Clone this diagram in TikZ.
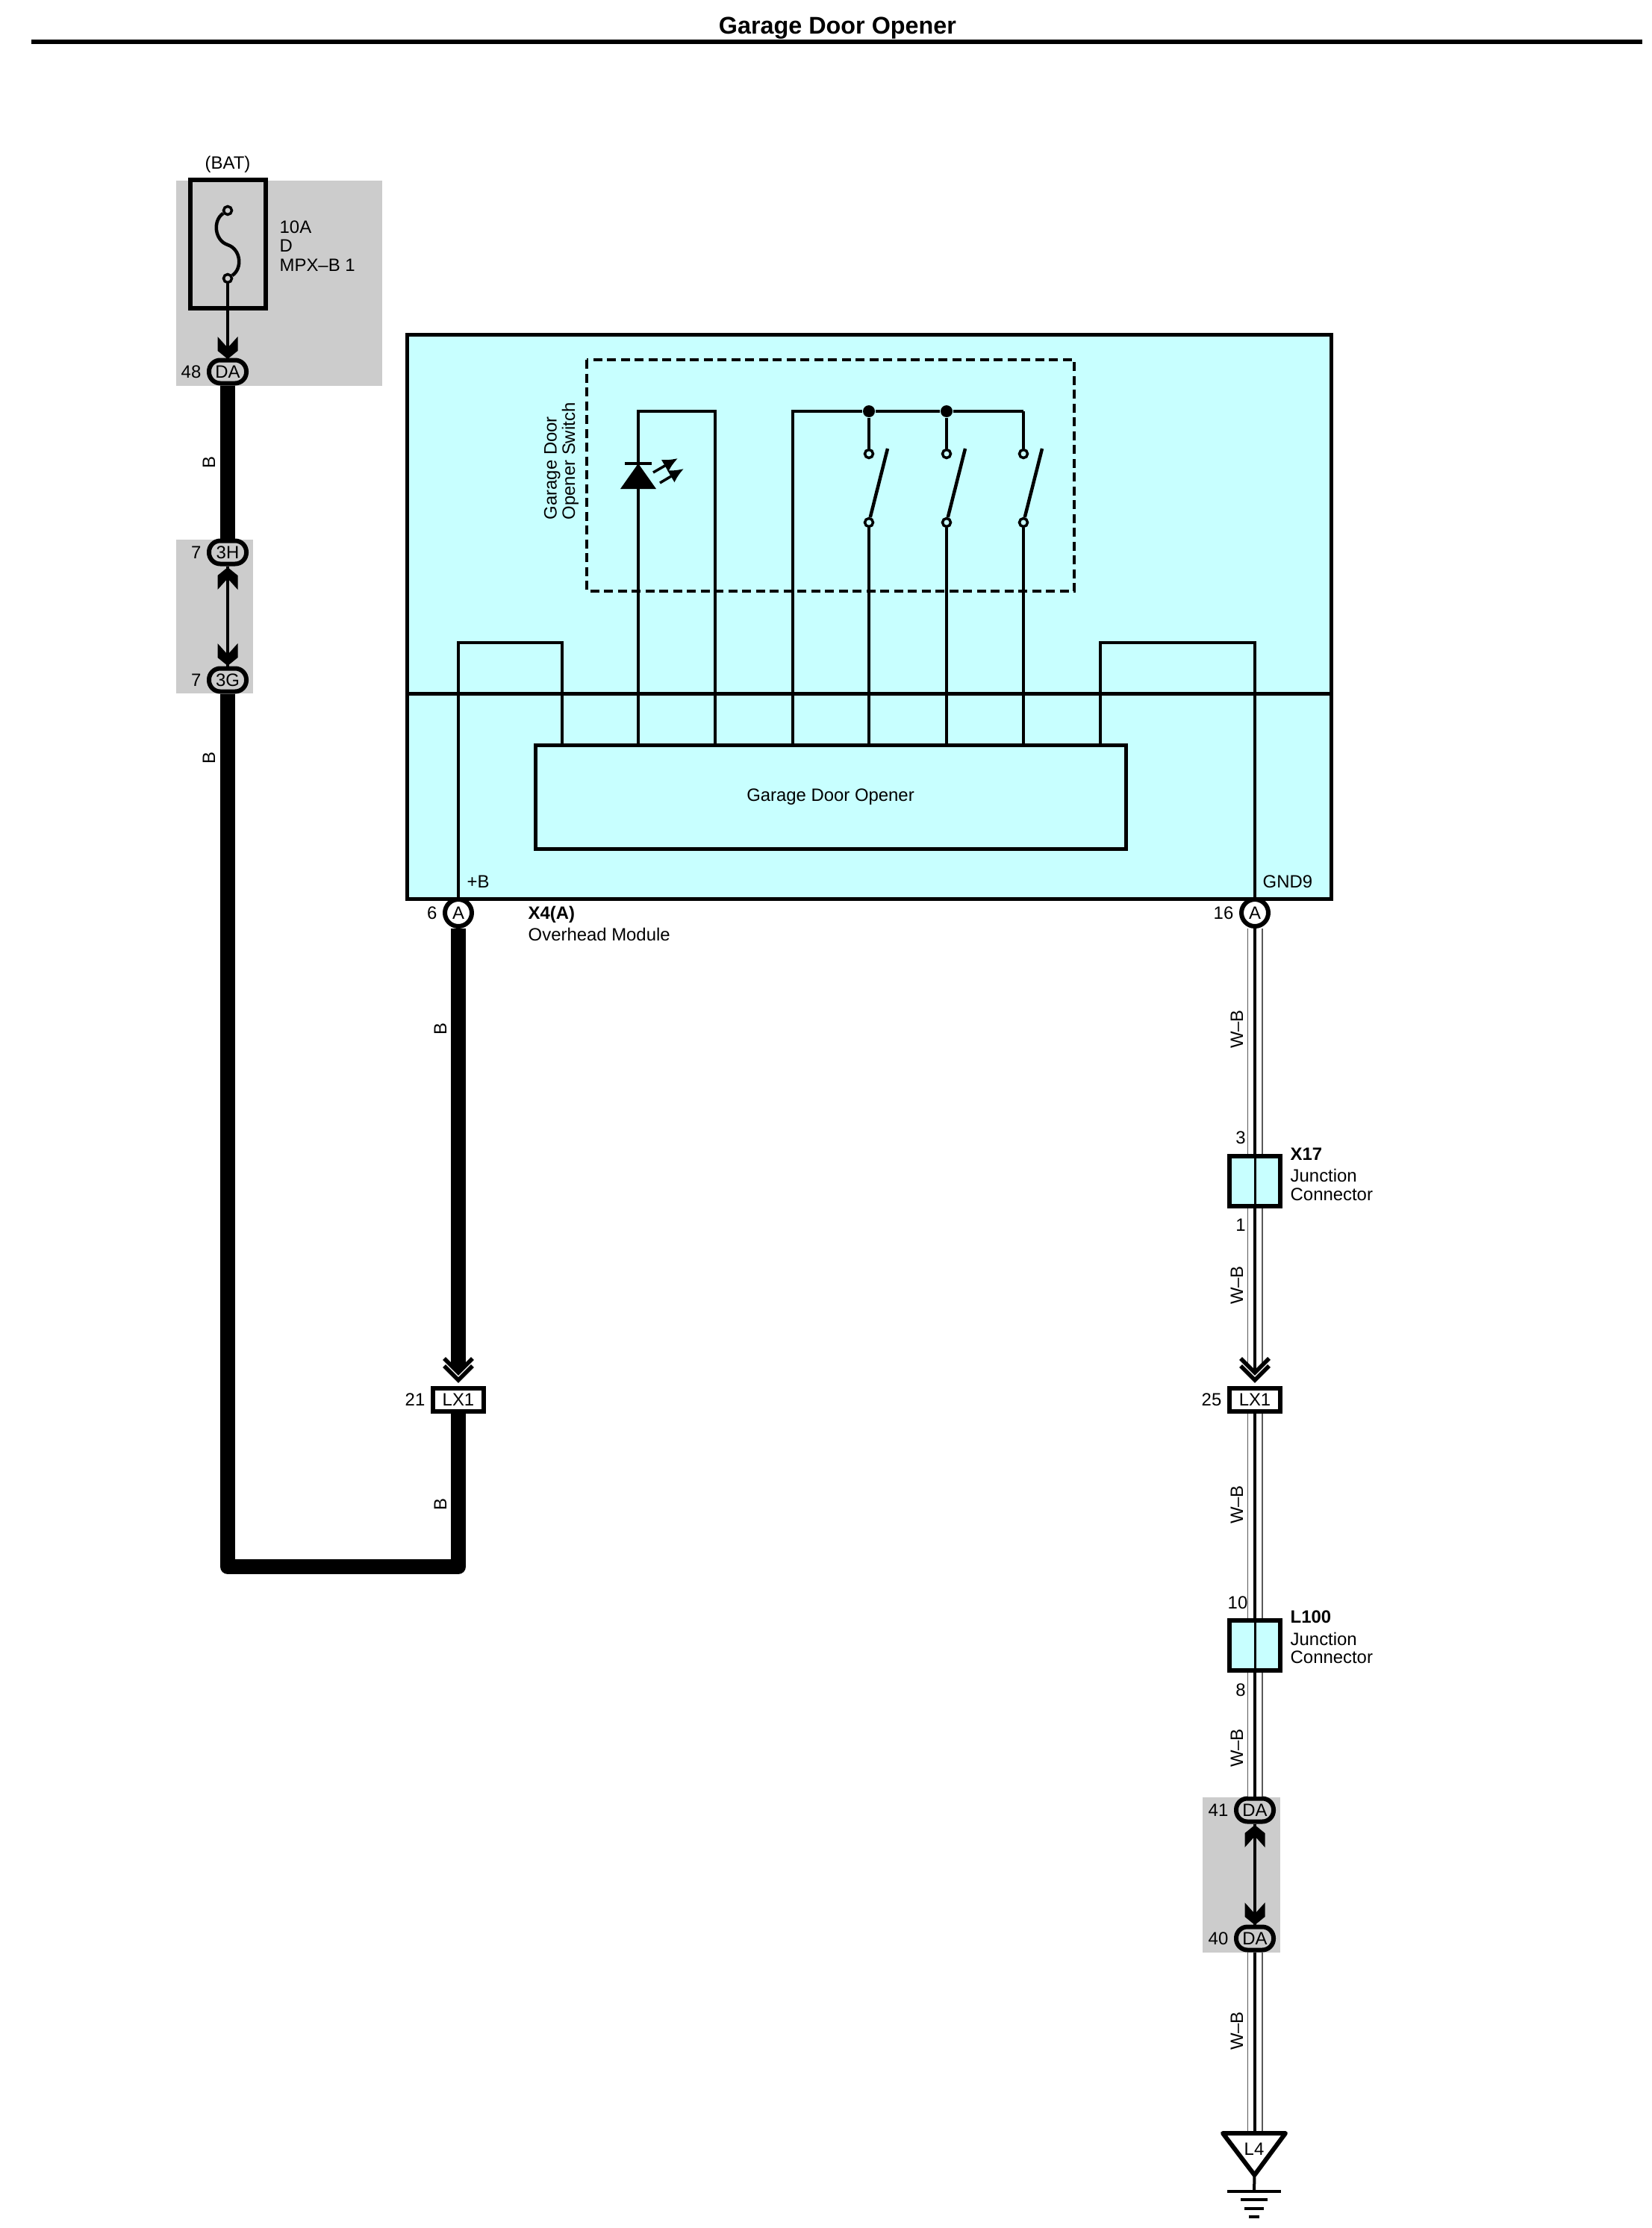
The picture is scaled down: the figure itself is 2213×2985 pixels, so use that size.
\documentclass[tikz,border=0pt]{standalone}
\usepackage{fontspec}
\setmainfont{Liberation Sans}
\usetikzlibrary{arrows.meta}
\definecolor{modfill}{HTML}{C8FFFF}
\definecolor{splice}{HTML}{CCCCCC}
\tikzset{
  every node/.style={inner sep=0pt, font=\fontsize{6.8}{7}\selectfont},
  every label/.style={inner sep=0pt, font=\fontsize{6.8}{7}\selectfont},
  label distance=.7mm,
  conn/.style={draw, line width=.6mm, fill=splice, rounded corners=1.5mm, minimum width=5mm, minimum height=3.1mm},
  pin/.style={circle, draw, line width=.6mm, fill=white, minimum size=3.6mm},
  lxbox/.style={draw, line width=.6mm, fill=white, minimum width=6.8mm, minimum height=3.1mm},
  jbox/.style={draw, line width=.6mm, fill=modfill, minimum width=6.8mm, minimum height=6.7mm},
  hole/.style={circle, draw, line width=.35mm, fill=modfill, minimum size=1.1mm},
  dot/.style={circle, fill=black, minimum size=1.6mm},
  wire/.style={line width=.35mm},
  feed/.style={line width=.38mm},
  wireb/.style={line width=2mm, line join=round},
  wirewb/.style={line width=2.1mm, draw=black!65, postaction={draw=white, line width=1.75mm}, postaction={draw=black, line width=.45mm}},
  chev/.pic={\fill (-13.5,-30) -- (-13.5,-11) -- (0,0) -- (13.5,-11) -- (13.5,-30) -- (0,-15) -- cycle;},
  openchev/.pic={
    \draw[line width=.45mm] (0,-30) -- (0,-14);
    \draw[line width=.55mm] (-19,-33) -- (0,-14) -- (19,-33) (-19,-23) -- (0,-4) -- (19,-23);
  },
  wedge/.pic={\fill (-10,-24) -- (10,-24) -- (0,-14) -- cycle;},
}
\begin{document}
\begin{tikzpicture}[x=.1mm, y=-.1mm]
  \useasboundingbox (0,0) rectangle (2213,2985);

  \node[font=\fontsize{9.2}{10}\bfseries\selectfont] (title) at (1122,38) {Garage Door Opener};
  \coordinate (rulel) at (42,56);
  \coordinate (ruler) at (2200,56);
  \draw[line width=.6mm] (rulel) -- (ruler);

  \fill[splice] (236,242) rectangle (512,517);
  \fill[splice] (236,723) rectangle (339,929);
  \fill[splice] (1611,2408) rectangle (1715,2616);

  \node[draw, line width=.6mm, minimum width=10.1mm, minimum height=17.2mm] (fuse) at (305.5,327) {};
  \node (bat) at (305,220) {(BAT)};
  \node[align=left, anchor=west] (fusetxt) at (374,329.5) {10A\\[.1mm]D\\[.1mm]MPX–B 1};
  \node[hole, fill=splice] (fuset) at (305,282) {};
  \node[hole, fill=splice] (fuseb) at (305,373) {};
  \draw[line width=.45mm] (fuset) .. controls (285,295) and (287,322) .. (305,328) .. controls (323,334) and (325,360) .. (fuseb);

  \node[conn, label=left:{48}] (da48) at (305,498) {DA};
  \node[conn, label=left:{7}] (c3h) at (305,740) {3H};
  \node[conn, label=left:{7}] (c3g) at (305,911) {3G};
  \node[conn, label=left:{41}] (da41) at (1681,2425) {DA};
  \node[conn, label=left:{40}] (da40) at (1681,2597) {DA};

  \draw[feed] (fuseb) -- (da48);
  \draw[feed] (c3h) -- (c3g);
  \draw[feed] (da41) -- (da40);
  \pic at (305,481) {chev};
  \pic[yscale=-1] at (305,760) {chev};
  \pic at (305,892) {chev};
  \pic[yscale=-1] at (1681,2445) {chev};
  \pic at (1681,2579) {chev};

  \node[draw, line width=.5mm, fill=modfill, minimum width=123.8mm, minimum height=75.6mm] (module) at (1164,826) {};
  \coordinate (midl) at (545,929.5);
  \coordinate (midr) at (1783,929.5);
  \draw[line width=.5mm] (midl) -- (midr);
  \node[draw, line width=.5mm, fill=modfill, minimum width=79.1mm, minimum height=13.9mm] (opener) at (1112.5,1067.5) {Garage Door Opener};

  \node[pin, label=left:{6}] (pina) at (614,1223) {A};
  \node[pin, label=left:{16}] (pinb) at (1681,1223) {A};
  \node[anchor=west] (plusb) at (625,1181) {+B};
  \node[anchor=west] (gnd) at (1691,1181) {GND9};
  \node[align=left, anchor=north west] (modtxt) at (707,1213) {\textbf{X4(A)}\\[.5mm]Overhead Module};

  \coordinate (lupl) at (614,861);
  \coordinate (lupm) at (753,861);
  \coordinate (rupl) at (1474,861);
  \coordinate (rupr) at (1681,861);
  \draw[wire] (pina) -- (lupl) -- (lupm) -- (lupm |- opener.north);
  \draw[wire] (pinb) -- (rupr) -- (rupl) -- (rupl |- opener.north);

  \coordinate (ledt) at (855,551);
  \coordinate (ledr) at (958,551);
  \draw[wire] (ledt |- opener.north) -- (ledt) -- (ledr) -- (ledr |- opener.north);
  \fill (855,621) -- (879,655) -- (831,655) -- cycle;
  \draw[line width=.35mm] (837,621) -- (873,621);
  \draw[line width=.35mm, -{Latex[length=2mm, width=1.9mm]}] (875,633) -- (908,614);
  \draw[line width=.35mm, -{Latex[length=2mm, width=1.9mm]}] (884,647) -- (916,628);

  \node[dot] (join1) at (1164,551) {};
  \node[dot] (join2) at (1268,551) {};
  \coordinate (busl) at (1062,551);
  \coordinate (busr) at (1371,551);
  \draw[wire] (busl |- opener.north) -- (busl) -- (join1) -- (join2) -- (busr);
  \foreach \n/\x in {1/1164, 2/1268, 3/1371} {
    \node[hole] (sw\n t) at (\x,608) {};
    \node[hole] (sw\n b) at (\x,700) {};
    \coordinate (arm\n) at (\x+25,601);
    \draw[line width=.45mm] (sw\n b) -- (arm\n);
    \draw[wire] (sw\n b) -- (sw\n b |- opener.north);
  }
  \draw[wire] (join1) -- (sw1t);
  \draw[wire] (join2) -- (sw2t);
  \draw[wire] (busr) -- (sw3t);

  \draw[line width=.35mm, dash pattern=on 1.2mm off .65mm] (786,482) rectangle (1439,792);
  \node[rotate=90, align=left, anchor=west] (swtxt) at (752,697) {Garage Door\\Opener Switch};

  \node[lxbox, label=left:{21}] (lxa) at (614,1875) {LX1};
  \node[lxbox, label=left:{25}] (lxb) at (1681,1875) {LX1};
  \coordinate (cnrl) at (305,2099);
  \coordinate (cnrr) at (614,2099);
  \coordinate (chva) at (614,1829);
  \coordinate (chvb) at (1681,1832);
  \draw[wireb] (da48) -- (c3h);
  \draw[wireb] (c3g) -- (cnrl) -- (cnrr) -- (lxa);
  \draw[wireb] (pina) -- (chva);
  \pic at (614,1853) {wedge};
  \pic at (614,1853) {openchev};

  \node[jbox] (x17) at (1681,1582.5) {};
  \node[jbox] (l100) at (1681,2204.5) {};
  \coordinate (l4t) at (1681,2856);
  \draw[wirewb] (pinb) -- (x17);
  \draw[wirewb] (x17) -- (chvb);
  \draw[wirewb] (lxb) -- (l100);
  \draw[wirewb] (l100) -- (da41);
  \draw[wirewb] (da40) -- (l4t);
  \draw[line width=.3mm] (x17.north) -- (x17.south);
  \draw[line width=.3mm] (l100.north) -- (l100.south);
  \pic at (1681,1853) {openchev};

  \node (p3) at (1662,1524) {3};
  \node (p1) at (1662,1641) {1};
  \node (p10) at (1658,2147) {10};
  \node (p8) at (1662,2264) {8};
  \node[align=left, anchor=north west] (x17txt) at (1728,1537) {\textbf{X17}\\[.5mm]Junction\\Connector};
  \node[align=left, anchor=north west] (l100txt) at (1728,2157) {\textbf{L100}\\[.5mm]Junction\\Connector};

  \foreach \n/\x/\y/\t in {1/280/620/B, 2/280/1016/B, 3/590/1379/B, 4/590/2016/B, 5/1657/1379/W–B, 6/1657/1722/W–B, 7/1657/2016/W–B, 8/1657/2342/W–B, 9/1657/2721/W–B}
    \node[rotate=90] (col\n) at (\x,\y) {\t};

  \coordinate (tril) at (1638,2858);
  \coordinate (trir) at (1722,2858);
  \coordinate (tria) at (1680.5,2914);
  \draw[line width=.6mm, line join=round, fill=white] (tril) -- (trir) -- (tria) -- cycle;
  \node (l4) at (1680,2879) {L4};
  \coordinate (gnda) at (1680,2936);
  \draw[line width=.4mm] (tria) -- (gnda);
  \draw[line width=.4mm] (1644,2936) -- (1716,2936);
  \draw[line width=.4mm] (1662,2947) -- (1698,2947);
  \draw[line width=.4mm] (1667,2959) -- (1693,2959);
  \draw[line width=.4mm] (1673,2970) -- (1687,2970);
\end{tikzpicture}
\end{document}
